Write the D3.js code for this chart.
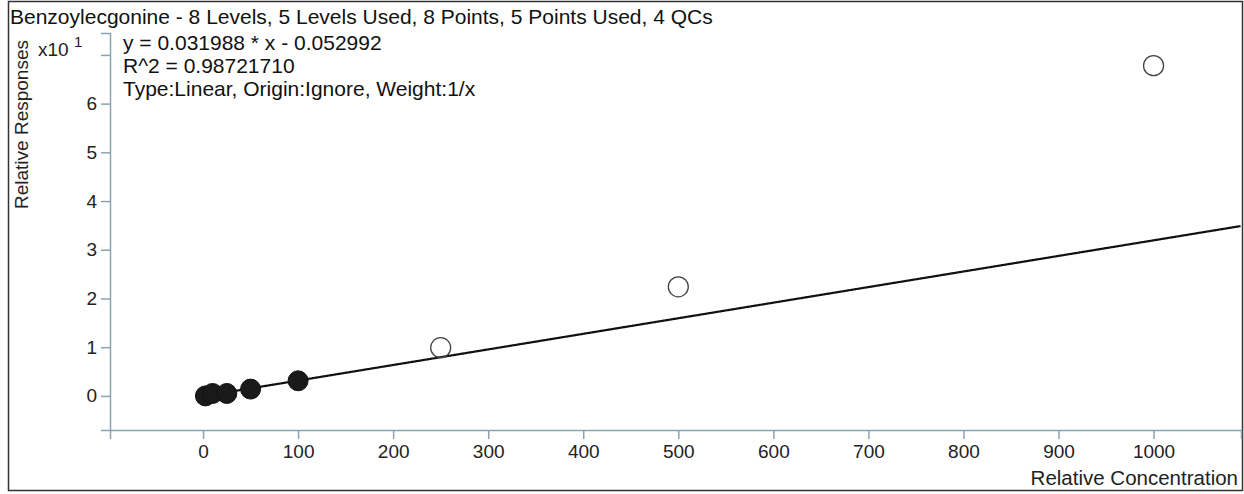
<!DOCTYPE html>
<html><head><meta charset="utf-8">
<script src="https://cdn.jsdelivr.net/npm/d3@7"></script>
<style>
html,body{margin:0;padding:0;background:#fff;}
svg{display:block;font-family:"Liberation Sans",Arial,sans-serif;}
</style></head>
<body><svg id="c" width="1244" height="494"></svg>
<script>
const title = "Benzoylecgonine - 8 Levels, 5 Levels Used, 8 Points, 5 Points Used, 4 QCs";
const eqLines = ["y = 0.031988 * x  - 0.052992", "R^2 = 0.98721710", "Type:Linear, Origin:Ignore, Weight:1/x"];
const slope = 0.031988, intercept = -0.052992; // in response units (axis shown x10^1)
const usedX = [2.5, 10, 25, 50, 100];
const usedY = [0.00, 0.05, 0.05, 0.14, 0.31];
const excludedX = [250, 500, 1000];
const excludedY = [0.99, 2.24, 6.78];
const xTicks = [0,100,200,300,400,500,600,700,800,900,1000];
const yTicks = [0,1,2,3,4,5,6];
const yExpTick = 7;
const xLabel = "Relative Concentration", yLabel = "Relative Responses";

const svg = d3.select("#c");
const axisCol = "#8aa3b3";
const L = 110, R = 1241, T = 33, B = 430;
const x = d3.scaleLinear().domain([-97.9, 1092]).range([L, R]);
const y = d3.scaleLinear().domain([-0.7, 7.45]).range([B, T]);
const FONT = "'Liberation Sans',Arial,sans-serif";

// frame
svg.append("rect").attr("x",8.5).attr("y",1.5).attr("width",1234).attr("height",489)
  .attr("fill","none").attr("stroke","#333").attr("stroke-width",1.5);

svg.append("text").attr("x",10).attr("y",24).attr("font-size",21).attr("fill","#111").text(title);

// axes
const xa = svg.append("g").attr("transform",`translate(0,${B})`)
  .call(d3.axisBottom(x).tickValues(xTicks).tickSize(9).tickPadding(6).tickFormat(d3.format("d")));
const ya = svg.append("g").attr("transform",`translate(${L},0)`)
  .call(d3.axisLeft(y).tickValues(yTicks.concat([yExpTick])).tickSize(9).tickPadding(4)
  .tickFormat(d => d === yExpTick ? "" : d));
[xa, ya].forEach(a => {
  a.select(".domain").attr("stroke",axisCol).attr("stroke-width",1.5);
  a.selectAll(".tick line").attr("stroke",axisCol).attr("stroke-width",1.5);
  a.selectAll(".tick text").attr("fill","#222").attr("font-size",19).attr("font-family",FONT);
});
// exponent label
const ex = svg.append("text").attr("x",38).attr("y",y(yExpTick)+1).attr("font-size",19).attr("fill","#222");
ex.append("tspan").text("x10 ");
ex.append("tspan").attr("dy",-9).attr("font-size",15).text("1");

svg.append("text").attr("x",1238).attr("y",485).attr("text-anchor","end").attr("font-size",20.5).attr("fill","#222").text(xLabel);
svg.append("text").attr("transform","translate(28,40) rotate(-90)").attr("text-anchor","end")
  .attr("font-size",19).attr("fill","#222").text(yLabel);

eqLines.forEach((t,i) => svg.append("text").attr("x",123).attr("y",50+i*23).attr("font-size",21).attr("fill","#111").text(t));

// regression line (responses displayed in x10^1 units)
const fx = d3.range(usedX[0], 1092, 1);
const line = d3.line().x(d => x(d)).y(d => y((slope*d + intercept)/10));
svg.append("path").datum(fx).attr("d", line).attr("fill","none").attr("stroke","#111").attr("stroke-width",2.2);

// points
svg.selectAll("circle.used").data(usedX).join("circle").attr("class","used")
  .attr("cx", d => x(d)).attr("cy", (d,i) => y(usedY[i])).attr("r",10)
  .attr("fill","#1a1a1a").attr("stroke","#111").attr("stroke-width",1);
svg.selectAll("circle.excl").data(excludedX).join("circle").attr("class","excl")
  .attr("cx", d => x(d)).attr("cy", (d,i) => y(excludedY[i])).attr("r",10)
  .attr("fill","none").attr("stroke","#444").attr("stroke-width",1.3);
</script></body></html>
